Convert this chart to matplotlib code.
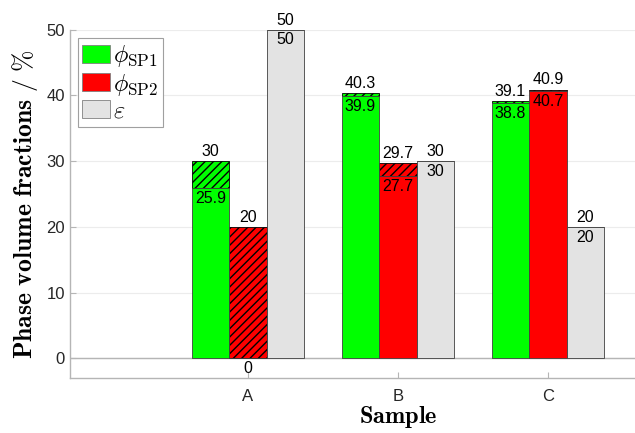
import matplotlib
matplotlib.use("Agg")
import matplotlib.pyplot as plt
from matplotlib.patches import Patch
import numpy as np

categories = ['A', 'B', 'C']
sp1_upper = [30, 40.3, 39.1]
sp1_lower = [25.9, 39.9, 38.8]
sp2_upper = [20, 29.7, 40.9]
sp2_lower = [0, 27.7, 40.7]
eps_upper = [50, 30, 20]
eps_lower = [50, 30, 20]

series = [
    (sp1_lower, sp1_upper, '#00ff00', r'$\phi_{\rm SP1}$'),
    (sp2_lower, sp2_upper, '#ff0000', r'$\phi_{\rm SP2}$'),
    (eps_lower, eps_upper, '#e3e3e3', r'$\varepsilon$'),
]

plt.rcParams['mathtext.fontset'] = 'cm'
plt.rcParams['font.family'] = ['Liberation Sans', 'DejaVu Sans']
plt.rcParams['hatch.linewidth'] = 1.0
plt.rcParams['hatch.color'] = 'black'

fig = plt.figure(figsize=(6.35, 4.33), dpi=100)
ax = fig.add_axes([0.1102, 0.127, 1.0331, 0.8044])

x = np.arange(1, len(categories) + 1)
width = 0.25
offsets = [-0.25, 0.0, 0.25]

ax.set_axisbelow(True)
ax.yaxis.grid(True, color='#ececec', linewidth=0.8)
ax.axhline(0, color='#b5b5b5', linewidth=1.0, zorder=1)

handles = []
for (low, up, col, lab), off in zip(series, offsets):
    xs = x + off
    low = np.array(low, dtype=float)
    up = np.array(up, dtype=float)
    # hatched portion between lower and upper value
    diff = up - low
    ax.bar(xs, diff, width, bottom=low, color=col, edgecolor='black',
           linewidth=0.6, hatch='////', zorder=2)
    # solid portion up to the lower value
    ax.bar(xs, low, width, color=col, edgecolor='#404040', linewidth=0.6, zorder=3)
    for xi, lo, hi in zip(xs, low, up):
        ax.annotate(f'{hi:g}', (xi, hi), xytext=(0, 1.5), textcoords='offset points',
                    ha='center', va='bottom', fontsize=11.5, color='black', zorder=5)
        ax.annotate(f'{lo:g}', (xi, lo), xytext=(0, -2), textcoords='offset points',
                    ha='center', va='top', fontsize=11.5, color='black', zorder=5)
    handles.append(Patch(facecolor=col, edgecolor='#808080', linewidth=0.6, label=lab))

ax.set_xlim(-0.187, 4.187)
ax.set_ylim(-3, 50)
ax.set_xticks(x)
ax.set_xticklabels(categories)
ax.set_yticks([0, 10, 20, 30, 40, 50])

for s in ['top', 'right']:
    ax.spines[s].set_visible(False)
for s in ['left', 'bottom']:
    ax.spines[s].set_color('#b5b5b5')
    ax.spines[s].set_linewidth(1.0)

ax.tick_params(axis='both', direction='in', colors='#b5b5b5', labelcolor='#262626',
               labelsize=12, length=4)
ax.tick_params(axis='x', pad=8)

ax.set_xlabel(r'$\mathbf{Sample}$', fontsize=17.5, labelpad=0)
ax.set_ylabel(r'$\mathbf{Phase\ volume\ fractions\ /\ \%}$', fontsize=18.5, labelpad=5)

leg = ax.legend(handles=handles, loc='upper left', bbox_to_anchor=(0.0115, 0.975),
                fontsize=17.5, frameon=True, fancybox=False, framealpha=1,
                edgecolor='#a0a0a0', handlelength=1.15, handleheight=0.74,
                borderpad=0.2, labelspacing=0.1, handletextpad=0.12, borderaxespad=0.0)
leg.get_frame().set_linewidth(0.8)

fig.savefig('out.png', dpi=100)
